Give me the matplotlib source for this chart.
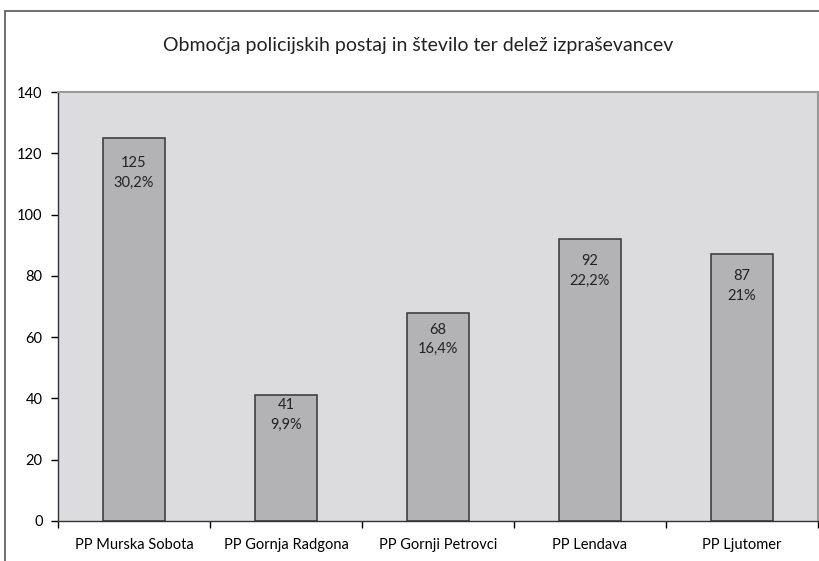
import matplotlib.pyplot as plt
from matplotlib.patches import Rectangle

postaje = ['PP Murska Sobota', 'PP Gornja Radgona', 'PP Gornji Petrovci', 'PP Lendava', 'PP Ljutomer']
stevilo = [125, 41, 68, 92, 87]
delez = ['30,2%', '9,9%', '16,4%', '22,2%', '21%']
odmik = [18, 3, 10, 15, 15]  # label offset below bar top (px)

plt.rcParams['font.family'] = ['Lato', 'DejaVu Sans']

fig = plt.figure(figsize=(8.19, 5.61), dpi=100)
fig.patches.append(Rectangle((5/819, -0.1), 1.2, 1.1 - 11/561, transform=fig.transFigure,
                             fill=False, edgecolor='#555555', linewidth=1.2))
ax = fig.add_axes([58/819, 40/561, 760/819, 429/561])
ax.set_facecolor('#dcdcde')

x = range(len(postaje))
ax.bar(x, stevilo, width=0.41, color='#b3b3b6', edgecolor='#404040', linewidth=1.2, zorder=2)
for i, (v, d) in enumerate(zip(stevilo, delez)):
    ax.annotate(f'{v}\n{d}', (i, v), xytext=(0, -odmik[i] * 0.72), textcoords='offset points',
                ha='center', va='top', fontsize=10.5, color='#222222', linespacing=1.5)

ax.set_xlim(-0.5, len(postaje) - 0.5)
ax.set_ylim(0, 140)
ax.set_yticks(range(0, 141, 20))
ax.set_xticks(x)
ax.set_xticklabels(postaje, fontsize=10.5)
ax.set_xticks([i - 0.5 for i in range(len(postaje) + 1)], minor=True)
ax.tick_params(axis='x', which='major', length=0, pad=12)
ax.tick_params(axis='x', which='minor', length=5, width=1, direction='out')
ax.tick_params(axis='y', length=5, width=1, labelsize=10.5, pad=6)
for s in ['top', 'right']:
    ax.spines[s].set_color('#9a9a9a')
    ax.spines[s].set_linewidth(1.5)
for s in ['left', 'bottom']:
    ax.spines[s].set_color('#333333')
    ax.spines[s].set_linewidth(1)

fig.text(418/819, 1 - 45/561, 'Območja policijskih postaj in število ter delež izpraševancev',
         ha='center', va='center', fontsize=14, color='#222222')

fig.savefig('out.png', dpi=100)
